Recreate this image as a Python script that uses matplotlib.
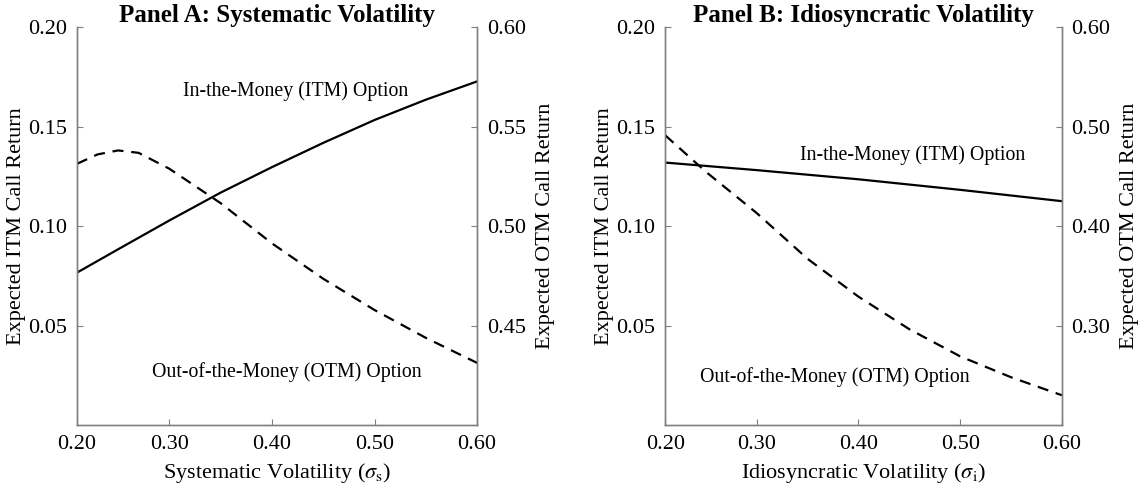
import numpy as np
import matplotlib
matplotlib.use("Agg")
import matplotlib.pyplot as plt

plt.rcParams["font.family"] = ["Liberation Serif", "DejaVu Serif"]
plt.rcParams["mathtext.fontset"] = "stix"

# panel A: systematic volatility
xa_itm = [0.21, 0.25, 0.30, 0.35, 0.40, 0.45, 0.50, 0.55, 0.60]
ya_itm = [0.0766, 0.0883, 0.1028, 0.1168, 0.1296, 0.1418, 0.1533, 0.1635, 0.1727]
xa_otm = [0.21, 0.23, 0.25, 0.27, 0.30, 0.35, 0.40, 0.45, 0.50, 0.55, 0.60]
ya_otm = [0.5313, 0.5360, 0.5380, 0.5368, 0.5288, 0.5115, 0.4913, 0.4735, 0.4578, 0.4438, 0.4312]

# panel B: idiosyncratic volatility
xb_itm = [0.21, 0.30, 0.40, 0.50, 0.60]
yb_itm = [0.1319, 0.1281, 0.1235, 0.1182, 0.1125]
xb_otm = [0.21, 0.25, 0.30, 0.35, 0.40, 0.45, 0.50, 0.55, 0.60]
yb_otm = [0.4912, 0.4545, 0.4130, 0.3670, 0.3290, 0.2963, 0.2690, 0.2480, 0.2299]

xticks = [0.21, 0.30, 0.40, 0.50, 0.60]
xticklabels = ["0.20", "0.30", "0.40", "0.50", "0.60"]
left_ticks = [0.05, 0.10, 0.15, 0.20]
right_ticks_a = [0.45, 0.50, 0.55, 0.60]
right_ticks_b = [0.30, 0.40, 0.50, 0.60]

fig = plt.figure(figsize=(11.43, 4.9), dpi=100)

tick_fs = 16
label_fs = 16
note_fs = 14.3
spine_col = "#808080"


def make_panel(rect, title, xlabel, x1, y1, x2, y2, rlim, rticks, itm_pos, otm_pos):
    ax = fig.add_axes(rect)
    ax2 = ax.twinx()

    ax.plot(x1, y1, "-", color="k", lw=1.6)
    ax2.plot(x2, y2, "--", color="k", lw=1.6, dashes=(5, 3.5))

    ax.set_xlim(0.21, 0.60)
    ax.set_ylim(0, 0.20)
    ax2.set_ylim(*rlim)
    ax.set_xticks(xticks)
    ax.set_xticklabels(xticklabels)
    ax.set_yticks(left_ticks)
    ax.set_yticklabels(["%.2f" % v for v in left_ticks])
    ax2.set_yticks(rticks)
    ax2.set_yticklabels(["%.2f" % v for v in rticks])

    for a in (ax, ax2):
        a.spines["top"].set_visible(False)
        for s in ("left", "right", "bottom"):
            a.spines[s].set_color(spine_col)
            a.spines[s].set_linewidth(1.0)
        a.tick_params(direction="in", length=4, width=0.8, color=spine_col,
                      labelsize=tick_fs, labelcolor="k", pad=7)

    ax.set_xlabel(xlabel, fontsize=label_fs, labelpad=5)
    ax.set_ylabel("Expected ITM Call Return", fontsize=label_fs, labelpad=2)
    ax2.set_ylabel("Expected OTM Call Return", fontsize=label_fs, labelpad=7)
    ax.set_title(title, fontsize=18, fontweight="bold", pad=4)

    ax.text(itm_pos[0], itm_pos[1], "In-the-Money (ITM) Option",
            fontsize=note_fs, ha="left", va="center")
    ax.text(otm_pos[0], otm_pos[1], "Out-of-the-Money (OTM) Option",
            fontsize=note_fs, ha="left", va="center")
    return ax, ax2


make_panel([0.0674, 0.1327, 0.350, 0.812], "Panel A: Systematic Volatility",
           r"Systematic Volatility ($\sigma_{\mathrm{s}}$)",
           xa_itm, ya_itm, xa_otm, ya_otm, (0.40, 0.60), right_ticks_a,
           (0.313, 0.168), (0.283, 0.0265))

make_panel([0.582, 0.1327, 0.347, 0.812], "Panel B: Idiosyncratic Volatility",
           r"Idiosyncratic Volatility ($\sigma_{\mathrm{i}}$)",
           xb_itm, yb_itm, xb_otm, yb_otm, (0.20, 0.60), right_ticks_b,
           (0.343, 0.1355), (0.244, 0.0241))

plt.savefig("out.png", dpi=100)
